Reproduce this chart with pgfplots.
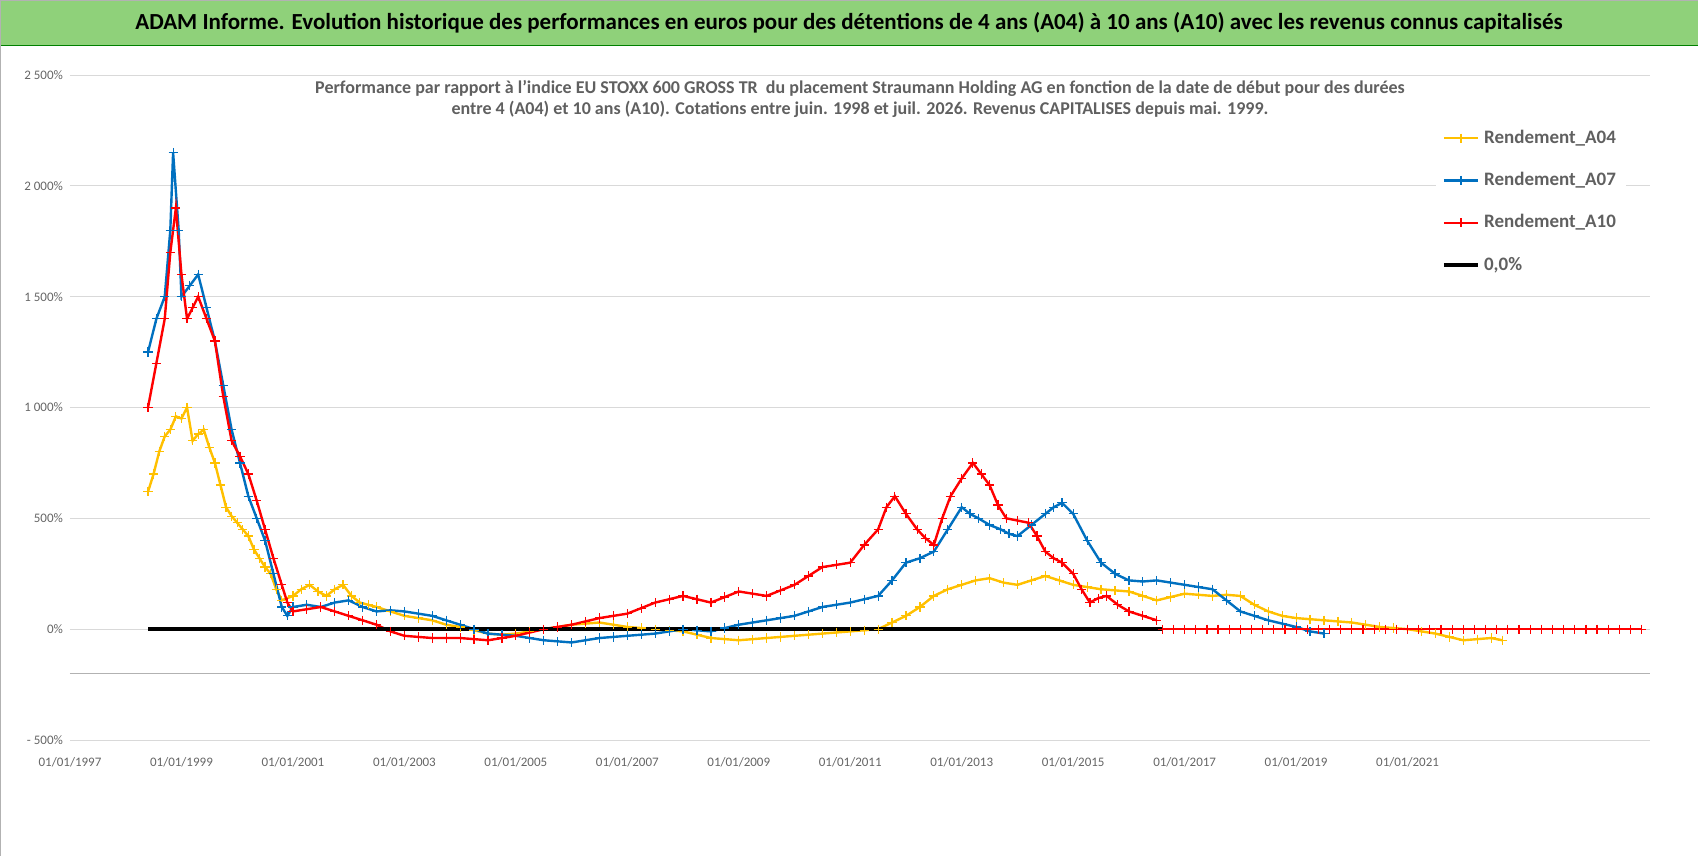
\documentclass[border=0pt]{standalone}
\usepackage{pgfplots}
\pgfplotsset{compat=1.18}
\usepackage{fontspec}
\setmainfont{Carlito}
\definecolor{cy}{HTML}{FFC000}
\definecolor{cb}{HTML}{0070C0}
\definecolor{cr}{HTML}{FF0000}
\definecolor{tbar}{HTML}{8FD17A}
\begin{document}
\begin{tikzpicture}
\fill[white] (-35pt,-58pt) rectangle (814pt,370pt);
\fill[tbar,draw=green!50!black] (-35pt,347.5pt) rectangle (814pt,370pt);
\node[font=\bfseries\fontsize{11.5}{13}\selectfont] at (389.5pt,358.7pt) {ADAM Informe. Evolution historique des performances en euros pour des détentions de 4 ans (A04) à 10 ans (A10) avec les revenus connus capitalisés};
\begin{axis}[at={(0,0)},anchor=south west, scale only axis, width=790pt, height=332.5pt,
 xmin=1997, xmax=2025.35, ymin=-500, ymax=2500,
 xtick={1997,1999,...,2021}, xticklabels={01/01/1997,01/01/1999,01/01/2001,01/01/2003,01/01/2005,01/01/2007,01/01/2009,01/01/2011,01/01/2013,01/01/2015,01/01/2017,01/01/2019,01/01/2021},
 ytick={-500,0,...,2500}, yticklabels={- 500\%,0\%,500\%,1 000\%,1 500\%,2 000\%,2 500\%},
 ymajorgrids, grid style={gray!30}, axis line style={draw=none}, major tick length=0pt,
 tick label style={font=\fontsize{6.5}{7}\selectfont, text=gray!80!black},
 xticklabel style={yshift=-5pt},
 title style={align=center, font=\bfseries\fontsize{9}{10.5}\selectfont, text=gray!75!black, at={(0.5,0.985)}, anchor=north},
 title={Performance par rapport à l'indice EU STOXX 600 GROSS TR \ du placement Straumann Holding AG en fonction de la date de début pour des durées\\entre 4 (A04) et 10 ans (A10). Cotations entre juin. 1998 et juil. 2026. Revenus CAPITALISES depuis mai. 1999.},
 legend style={at={(0.985,0.93)}, anchor=north east, draw=none, fill=white, font=\bfseries\fontsize{9.5}{11}\selectfont, text=gray!75!black, row sep=9pt},
 legend cell align=left,
 every axis plot/.append style={line width=1.2pt, mark=+, mark size=2.3pt, mark options={line width=0.6pt}},
 clip=false]
\draw[gray!60] (axis cs:1997,-200) -- (axis cs:2025.35,-200);
\addplot[cy] coordinates {
(1998.4,620)(1998.5,700)(1998.6,800)(1998.7,870)(1998.8,900)(1998.9,960)(1999.0,950)(1999.1,1000)(1999.2,850)(1999.3,880)(1999.4,900)(1999.5,820)(1999.6,750)(1999.7,650)(1999.8,550)(1999.9,510)(2000.0,480)(2000.1,450)(2000.2,420)(2000.3,360)(2000.4,320)(2000.5,280)(2000.6,250)(2000.7,180)(2000.8,130)(2001.0,150)(2001.15,180)(2001.3,200)(2001.45,170)(2001.6,150)(2001.75,180)(2001.9,200)(2002.05,150)(2002.2,120)(2002.35,110)(2002.5,100)(2002.75,80)(2003,60)(2003.25,50)(2003.5,40)(2003.75,20)(2004,10)(2004.25,-5)(2004.5,-20)(2004.75,-25)(2005,-20)(2005.25,-10)(2005.5,0)(2005.75,10)(2006,20)(2006.25,25)(2006.5,30)(2006.75,20)(2007,10)(2007.25,5)(2007.5,0)(2007.75,-5)(2008,-10)(2008.25,-25)(2008.5,-40)(2008.75,-45)(2009,-50)(2009.25,-45)(2009.5,-40)(2009.75,-35)(2010,-30)(2010.25,-25)(2010.5,-20)(2010.75,-15)(2011,-10)(2011.25,-5)(2011.5,0)(2011.75,30)(2012,60)(2012.25,100)(2012.5,150)(2012.75,180)(2013,200)(2013.25,220)(2013.5,230)(2013.75,210)(2014,200)(2014.25,220)(2014.5,240)(2014.75,220)(2015,200)(2015.25,190)(2015.5,180)(2015.75,175)(2016,170)(2016.25,150)(2016.5,130)(2016.75,145)(2017,160)(2017.25,155)(2017.5,150)(2017.75,155)(2018,150)(2018.25,110)(2018.5,80)(2018.75,60)(2019,50)(2019.25,45)(2019.5,40)(2019.75,35)(2020,30)(2020.25,20)(2020.5,10)(2020.75,5)(2021,0)(2021.25,-10)(2021.5,-20)(2021.75,-35)(2022,-50)(2022.25,-45)(2022.5,-40)(2022.7,-50)};
\addlegendentry{Rendement\_A04}
\addplot[cb] coordinates {
(1998.4,1250)(1998.55,1400)(1998.7,1500)(1998.8,1800)(1998.85,2150)(1998.95,1800)(1999.0,1500)(1999.15,1550)(1999.3,1600)(1999.45,1450)(1999.6,1300)(1999.75,1100)(1999.9,900)(2000.05,750)(2000.2,600)(2000.35,500)(2000.5,400)(2000.65,250)(2000.8,100)(2000.9,60)(2001,100)(2001.25,110)(2001.5,100)(2001.75,120)(2002,130)(2002.25,100)(2002.5,80)(2002.75,85)(2003,80)(2003.25,70)(2003.5,60)(2003.75,40)(2004,20)(2004.25,0)(2004.5,-20)(2004.75,-25)(2005,-30)(2005.25,-40)(2005.5,-50)(2005.75,-55)(2006,-60)(2006.25,-50)(2006.5,-40)(2006.75,-35)(2007,-30)(2007.25,-25)(2007.5,-20)(2007.75,-10)(2008,0)(2008.25,-5)(2008.5,-10)(2008.75,5)(2009,20)(2009.25,30)(2009.5,40)(2009.75,50)(2010,60)(2010.25,80)(2010.5,100)(2010.75,110)(2011,120)(2011.25,135)(2011.5,150)(2011.75,220)(2012,300)(2012.25,320)(2012.5,350)(2012.75,450)(2013,550)(2013.15,520)(2013.3,500)(2013.5,470)(2013.7,450)(2013.85,430)(2014,420)(2014.25,470)(2014.5,520)(2014.65,550)(2014.8,570)(2015,520)(2015.25,400)(2015.5,300)(2015.75,250)(2016,220)(2016.25,215)(2016.5,220)(2016.75,210)(2017,200)(2017.25,190)(2017.5,180)(2017.75,130)(2018,80)(2018.25,60)(2018.5,40)(2018.75,25)(2019,10)(2019.25,-10)(2019.5,-20)};
\addlegendentry{Rendement\_A07}
\addplot[cr] coordinates {
(1998.4,1000)(1998.55,1200)(1998.7,1400)(1998.8,1700)(1998.9,1900)(1999.0,1600)(1999.1,1400)(1999.2,1450)(1999.3,1500)(1999.45,1400)(1999.6,1300)(1999.75,1050)(1999.9,850)(2000.05,780)(2000.2,700)(2000.35,580)(2000.5,450)(2000.65,320)(2000.8,200)(2000.9,120)(2001,80)(2001.25,90)(2001.5,100)(2001.75,80)(2002,60)(2002.25,40)(2002.5,20)(2002.75,-10)(2003,-30)(2003.25,-35)(2003.5,-40)(2003.75,-40)(2004,-40)(2004.25,-45)(2004.5,-50)(2004.75,-40)(2005,-30)(2005.25,-15)(2005.5,0)(2005.75,10)(2006,20)(2006.25,35)(2006.5,50)(2006.75,60)(2007,70)(2007.25,95)(2007.5,120)(2007.75,135)(2008,150)(2008.25,135)(2008.5,120)(2008.75,145)(2009,170)(2009.25,160)(2009.5,150)(2009.75,175)(2010,200)(2010.25,240)(2010.5,280)(2010.75,290)(2011,300)(2011.25,380)(2011.5,450)(2011.65,550)(2011.8,600)(2012,520)(2012.2,450)(2012.35,410)(2012.5,380)(2012.65,500)(2012.8,600)(2013,680)(2013.2,750)(2013.35,700)(2013.5,650)(2013.65,560)(2013.8,500)(2014,490)(2014.2,480)(2014.35,420)(2014.5,350)(2014.65,320)(2014.8,300)(2015,250)(2015.15,180)(2015.3,120)(2015.45,140)(2015.6,150)(2015.8,110)(2016,80)(2016.25,60)(2016.5,40)};
\addlegendentry{Rendement\_A10}
\addplot[black, line width=2pt, mark=none] coordinates {(1998.4,0)(2016.6,0)};
\addlegendentry{0,0\%}
\addplot[cr, forget plot] coordinates {
(2016.6,0)(2016.8,0)(2017,0)(2017.2,0)(2017.4,0)(2017.6,0)(2017.8,0)(2018,0)(2018.2,0)(2018.4,0)(2018.6,0)(2018.8,0)(2019,0)(2019.2,0)(2019.4,0)(2019.6,0)(2019.8,0)(2020,0)(2020.2,0)(2020.4,0)(2020.6,0)(2020.8,0)(2021,0)(2021.2,0)(2021.4,0)(2021.6,0)(2021.8,0)(2022,0)(2022.2,0)(2022.4,0)(2022.6,0)(2022.8,0)(2023,0)(2023.2,0)(2023.4,0)(2023.6,0)(2023.8,0)(2024,0)(2024.2,0)(2024.4,0)(2024.6,0)(2024.8,0)(2025,0)(2025.2,0)};
\end{axis}
\draw[gray!60] (-35pt,-58pt) rectangle (814pt,370pt);
\pgfresetboundingbox
\useasboundingbox (-35pt,-58pt) rectangle (814pt,370pt);
\end{tikzpicture}
\end{document}
